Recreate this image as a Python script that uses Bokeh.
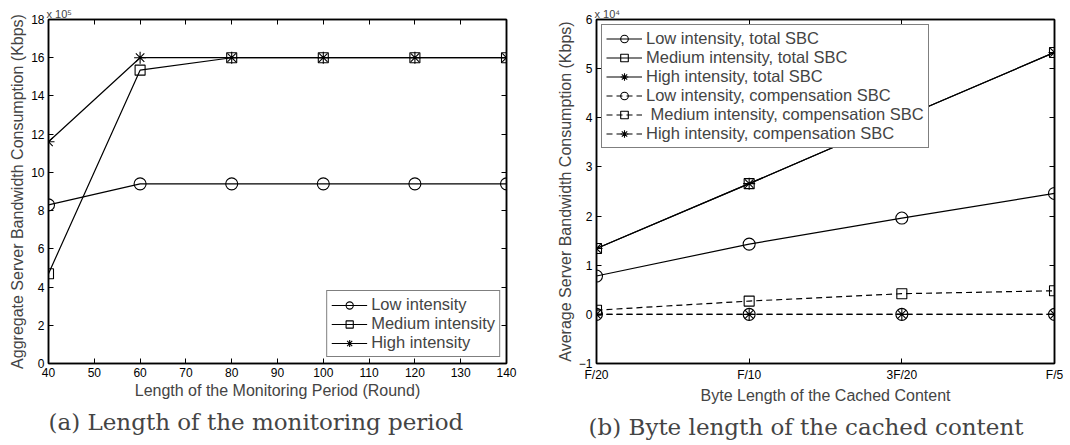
from bokeh.plotting import figure
from bokeh.layouts import row
from bokeh.models import (LinearAxis, Title, Legend, LegendItem,
                          FixedTicker, Range1d)
from bokeh.embed import file_html
from bokeh.resources import INLINE

# ---------------- data (a) : values in units of 1e5 Kbps ----------------
period = [40, 60, 80, 100, 120, 140]
low_a = [8.3, 9.4, 9.4, 9.4, 9.4, 9.4]
medium_a = [4.7, 15.35, 16.0, 16.0, 16.0, 16.0]
high_a = [11.6, 16.0, 16.0, 16.0, 16.0, 16.0]
labels_a = ["Low intensity", "Medium intensity", "High intensity"]

# ---------------- data (b) : values in units of 1e4 Kbps ----------------
cache_labels = ["F/20", "F/10", "3F/20", "F/5"]
cache_pos = [1, 2, 3, 4]
low_total = [0.78, 1.43, 1.96, 2.46]
medium_total = [1.34, 2.66, 4.0, 5.33]
high_total = [1.34, 2.66, 4.0, 5.33]
low_comp = [0.0, 0.0, 0.0, 0.0]
medium_comp = [0.085, 0.27, 0.42, 0.48]
high_comp = [0.0, 0.0, 0.0, 0.0]
labels_b = ["Low intensity, total SBC", "Medium intensity, total SBC",
            "High intensity, total SBC", "Low intensity, compensation SBC",
            " Medium intensity, compensation SBC", "High intensity, compensation SBC"]

SANS = "Liberation Sans"
SERIF = "DejaVu Serif"


def style(p):
    p.xgrid.visible = False
    p.ygrid.visible = False
    p.outline_line_color = "black"
    p.outline_line_width = 1.5
    p.background_fill_color = "white"
    p.border_fill_color = "white"
    for ax in p.axis:
        ax.axis_line_width = 1.5
        ax.major_tick_in = 5
        ax.major_tick_out = 0
        ax.minor_tick_in = 0
        ax.minor_tick_out = 0
        ax.major_label_text_font = SANS
        ax.major_label_text_font_size = "12px"
        ax.major_label_text_color = "black"
        ax.axis_label_text_font = SANS
        ax.axis_label_text_font_size = "16px"
        ax.axis_label_text_font_style = "normal"
        ax.axis_label_standoff = 2
        ax.major_label_standoff = 4


def mirror_axes(p, xt, yt):
    top = LinearAxis(ticker=FixedTicker(ticks=xt),
                     major_label_overrides={t: "" for t in xt})
    right = LinearAxis(ticker=FixedTicker(ticks=yt),
                       major_label_overrides={t: "" for t in yt})
    for ax in (top, right):
        ax.major_label_standoff = 0
        ax.axis_line_width = 1.5
        ax.major_tick_in = 5
        ax.major_tick_out = 0
        ax.minor_tick_in = 0
        ax.minor_tick_out = 0
    p.add_layout(top, "above")
    p.add_layout(right, "right")


def series(p, x, y, marker, dash, size):
    r1 = p.line(x, y, line_color="black", line_width=1.2, line_dash=dash)
    r2 = p.scatter(x, y, marker=marker, size=size, fill_color=None,
                   line_color="black", line_width=1.1)
    return [r1, r2]


def exponent_title(p, text):
    p.add_layout(Title(text=text, align="left", text_font=SANS,
                       text_font_size="11px", text_font_style="normal",
                       offset=-2, standoff=0), "above")


# ======================= panel (a) =======================
p1 = figure(width=530, height=445, frame_width=458, frame_height=344,
            x_range=Range1d(40, 140), y_range=Range1d(0, 18),
            output_backend="svg", toolbar_location=None,
            min_border_left=48, min_border_right=24, min_border_top=19,
            min_border_bottom=82)
p1.xaxis.ticker = FixedTicker(ticks=list(range(40, 141, 10)))
p1.yaxis.ticker = FixedTicker(ticks=list(range(0, 19, 2)))
p1.xaxis.axis_label = "Length of the Monitoring Period (Round)"
p1.yaxis.axis_label = "Aggregate Server Bandwidth Consumption (Kbps)"
style(p1)
mirror_axes(p1, list(range(40, 141, 10)), list(range(0, 19, 2)))

ra = [series(p1, period, low_a, "circle", "solid", 12),
      series(p1, period, medium_a, "square", "solid", 10),
      series(p1, period, high_a, "asterisk", "solid", 12)]
leg1 = Legend(items=[LegendItem(label=l, renderers=r) for l, r in zip(labels_a, ra)],
              location="bottom_right", margin=6)
p1.add_layout(leg1, "center")

exponent_title(p1, "x 10\u2075")
p1.add_layout(Title(text="(a) Length of the monitoring period", align="left",
                    text_font=SERIF, text_font_size="23px", text_font_style="normal",
                    offset=0), "below")

# ======================= panel (b) =======================
p2 = figure(width=540, height=445, frame_width=458, frame_height=344,
            x_range=Range1d(1, 4), y_range=Range1d(-1, 6),
            output_backend="svg", toolbar_location=None,
            min_border_left=66, min_border_right=16, min_border_top=19,
            min_border_bottom=82)
p2.xaxis.ticker = FixedTicker(ticks=cache_pos)
p2.xaxis.major_label_overrides = {pos: lab for pos, lab in zip(cache_pos, cache_labels)}
p2.yaxis.ticker = FixedTicker(ticks=list(range(-1, 7)))
p2.yaxis.major_label_overrides = {-1: "\u22121"}
p2.xaxis.axis_label = "Byte Length of the Cached Content"
p2.yaxis.axis_label = "Average Server Bandwidth Consumption (Kbps)"
style(p2)
mirror_axes(p2, cache_pos, list(range(-1, 7)))

rb = [series(p2, cache_pos, low_total, "circle", "solid", 12),
      series(p2, cache_pos, medium_total, "square", "solid", 10),
      series(p2, cache_pos, high_total, "asterisk", "solid", 12),
      series(p2, cache_pos, low_comp, "circle", "6 4", 12),
      series(p2, cache_pos, medium_comp, "square", "6 4", 10),
      series(p2, cache_pos, high_comp, "asterisk", "6 4", 12)]
leg2 = Legend(items=[LegendItem(label=l, renderers=r) for l, r in zip(labels_b, rb)],
              location="top_left", margin=5)
p2.add_layout(leg2, "center")

exponent_title(p2, "x 10\u2074")
p2.add_layout(Title(text="(b) Byte length of the cached content", align="left",
                    text_font=SERIF, text_font_size="23px", text_font_style="normal",
                    offset=-8), "below")

for lg in (leg1, leg2):
    lg.label_text_font = SANS
    lg.label_text_font_size = "16.5px"
    lg.label_height = 19
    lg.glyph_width = 36
    lg.glyph_height = 19
    lg.spacing = 0
    lg.padding = 4
    lg.label_standoff = 4
    lg.border_line_color = "black"
    lg.border_line_width = 1.5
    lg.background_fill_alpha = 1.0
leg1.label_height = 18
leg1.glyph_height = 18

layout = row(p1, p2)
open("out.html", "w").write(file_html(layout, INLINE))
